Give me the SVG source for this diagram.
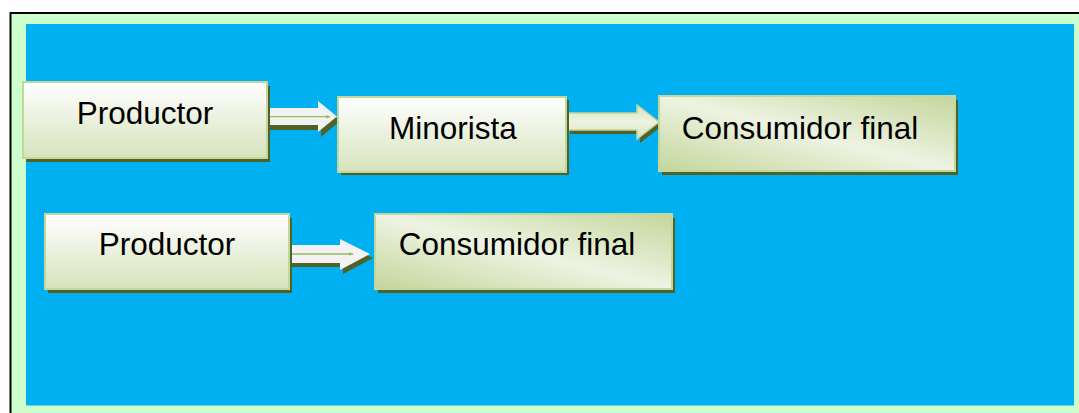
<svg xmlns="http://www.w3.org/2000/svg" width="1079" height="413" viewBox="0 0 1079 413">
<defs>
<linearGradient id="gv" x1="0" y1="0" x2="0" y2="1">
<stop offset="0" stop-color="#FFFFFF"/>
<stop offset="1" stop-color="#D6E3BC"/>
</linearGradient>
<linearGradient id="gd" x1="1" y1="0" x2="0" y2="1">
<stop offset="0" stop-color="#C3D69B"/>
<stop offset="0.5" stop-color="#EEF3E2"/>
<stop offset="1" stop-color="#C3D69B"/>
</linearGradient>
<linearGradient id="ga" x1="0" y1="0" x2="0" y2="1">
<stop offset="0" stop-color="#D6E3BC"/>
<stop offset="0.5" stop-color="#EEF3E2"/>
<stop offset="1" stop-color="#D6E3BC"/>
</linearGradient>
<marker id="mh" viewBox="0 0 10 10" refX="9" refY="5" markerWidth="5" markerHeight="5" orient="auto" markerUnits="userSpaceOnUse">
<path d="M0,1 L10,5 L0,9 Z" fill="#9BBB59"/>
</marker>
<style>
.sh{fill:#4F6228}
.bx{stroke:#C3D69B;stroke-width:2}
.lv{fill:url(#gv)}
.ld{fill:url(#gd)}
.t{font-family:"Liberation Sans",Arial,sans-serif;font-size:31.5px;fill:#000000}
.aw{fill:#F2F2F2}
.ag{fill:url(#ga);stroke:#C3D69B;stroke-width:1.5}
.il{stroke:#9BBB59;stroke-width:1.3;fill:none}
</style>
</defs>
<rect x="10.5" y="13" width="1070" height="402" fill="#CCFFCC" stroke="#000000" stroke-width="2"/>
<rect x="26" y="24" width="1048" height="381.5" fill="#00B0F0"/>
<g id="connectors">
<g id="c1">
<polygon class="sh" points="269,112 321,112 321,105 340,121 321,137 321,130 269,130"/>
<polygon class="aw" points="264,108 318,108 318,101 337,116.5 318,132 318,125 264,125"/>
<line class="il" x1="270" y1="116.7" x2="330" y2="116.7" marker-end="url(#mh)"/>
</g>
<g id="c2">
<polygon class="sh" points="570,117 640,117 640,109 662,126 640,143 640,134 570,134"/>
<polygon class="ag" points="566,113 637,113 637,105 659,122 637,139 637,130 566,130"/>
</g>
<g id="c3">
<polygon class="sh" points="287,249 343,249 343,243 373,258 343,274 343,267 287,267"/>
<polygon class="aw" points="284,245 340,245 340,239 370,254 340,270 340,263 284,263"/>
<line class="il" x1="292" y1="254" x2="353" y2="254" marker-end="url(#mh)"/>
</g>
</g>
<g id="n1">
<rect class="sh" x="26" y="86" width="244" height="76"/>
<rect class="bx lv" x="23" y="82" width="244" height="76"/>
<text class="t" x="145" y="124" text-anchor="middle">Productor</text>
</g>
<g id="n2">
<rect class="sh" x="341" y="100" width="228" height="75"/>
<rect class="bx lv" x="338" y="97" width="228" height="75"/>
<text class="t" x="453" y="138.5" text-anchor="middle">Minorista</text>
</g>
<g id="n3">
<rect class="sh" x="662" y="100" width="296" height="75"/>
<rect class="bx ld" x="659" y="96" width="296" height="75"/>
<text class="t" x="800" y="138.5" text-anchor="middle">Consumidor final</text>
</g>
<g id="n4">
<rect class="sh" x="48" y="218" width="244" height="75"/>
<rect class="bx lv" x="45" y="214" width="244" height="75"/>
<text class="t" x="167" y="255" text-anchor="middle">Productor</text>
</g>
<g id="n5">
<rect class="sh" x="378" y="218" width="297" height="75"/>
<rect class="bx ld" x="375" y="214" width="297" height="75"/>
<text class="t" x="517" y="255" text-anchor="middle">Consumidor final</text>
</g>
</svg>
